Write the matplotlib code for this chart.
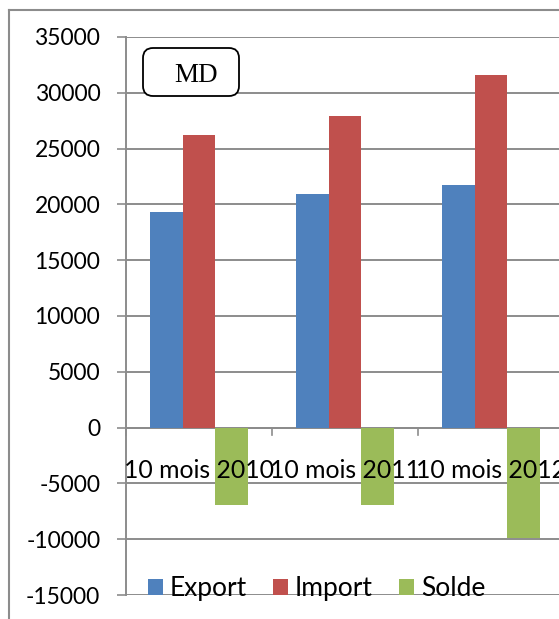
import numpy as np
import matplotlib
matplotlib.use("Agg")
import matplotlib.pyplot as plt
from matplotlib.lines import Line2D
from matplotlib.patches import FancyBboxPatch

# Data (MD)
categories = ["10 mois 2010", "10 mois 2011", "10 mois 2012"]
export = [19300, 20900, 21700]
imports = [26200, 27900, 31600]
solde = [-6950, -6950, -9900]
series_names = ["Export", "Import", "Solde"]
colors = ["#4F81BD", "#C0504D", "#9BBB59"]
yticks = list(range(-15000, 35001, 5000))

plt.rcParams['font.family'] = ['Lato', 'DejaVu Sans']

W, H = 559, 619
fig = plt.figure(figsize=(W / 100, H / 100), dpi=100)
ax = fig.add_axes([126 / W, 1 - 595 / H, (564 - 126) / W, (595 - 37) / H])

x = np.arange(len(categories))
w = 0.2226
for i, (vals, name, c) in enumerate(zip([export, imports, solde], series_names, colors)):
    ax.bar(x + (i - 1) * w, vals, width=w, color=c, label=name, zorder=3)

ax.set_xlim(-0.5, len(categories) - 0.5)
ax.set_ylim(-15000, 35000)
ax.set_yticks(yticks)
ax.set_yticklabels([str(v) for v in yticks], fontsize=16.5)
ax.yaxis.grid(True, color="#8c8c8c", linewidth=1.4, zorder=0)
ax.set_axisbelow(True)
ax.tick_params(axis='y', length=6.5, width=1.2, color="#8c8c8c", pad=12)

# category boundary ticks on the zero line
ax.set_xticks([])
for b in np.arange(-0.5, len(categories), 1.0):
    ax.plot([b, b], [0, -700], color="#8c8c8c", lw=1.2, zorder=2, clip_on=False)
ax.axhline(0, color="#8c8c8c", lw=1.4, zorder=2)

for xi, lab in zip(x, categories):
    ax.text(xi, -3850, lab, ha='center', va='center', fontsize=17.8, zorder=5)

for s in ['top', 'right', 'bottom']:
    ax.spines[s].set_visible(False)
ax.spines['left'].set_color("#8c8c8c")
ax.spines['left'].set_linewidth(1.4)

# "MD" unit box
box = FancyBboxPatch((143 / W, 1 - 96 / H), 96 / W, 48 / H,
                     boxstyle='round,pad=0,rounding_size=0.018',
                     transform=fig.transFigure, fc='white', ec='black', lw=1.3,
                     mutation_aspect=W / H, zorder=6)
fig.add_artist(box)
fig.text(196 / W, 1 - 76 / H, "MD", ha='center', va='center', fontsize=19.5,
         family='Liberation Serif', zorder=7)

ax.legend(loc='lower center', bbox_to_anchor=(0.435, -0.054), ncol=3, frameon=False,
          fontsize=19, handlelength=0.57, handleheight=0.57, handletextpad=0.25,
          columnspacing=1.0)

# outer chart frame
fig.add_artist(Line2D([9 / W, 9 / W], [0, 1 - 10 / H], color="#8c8c8c", lw=1.5))
fig.add_artist(Line2D([9 / W, 1], [1 - 10 / H, 1 - 10 / H], color="#8c8c8c", lw=1.5))

fig.savefig("out.png", dpi=100)
